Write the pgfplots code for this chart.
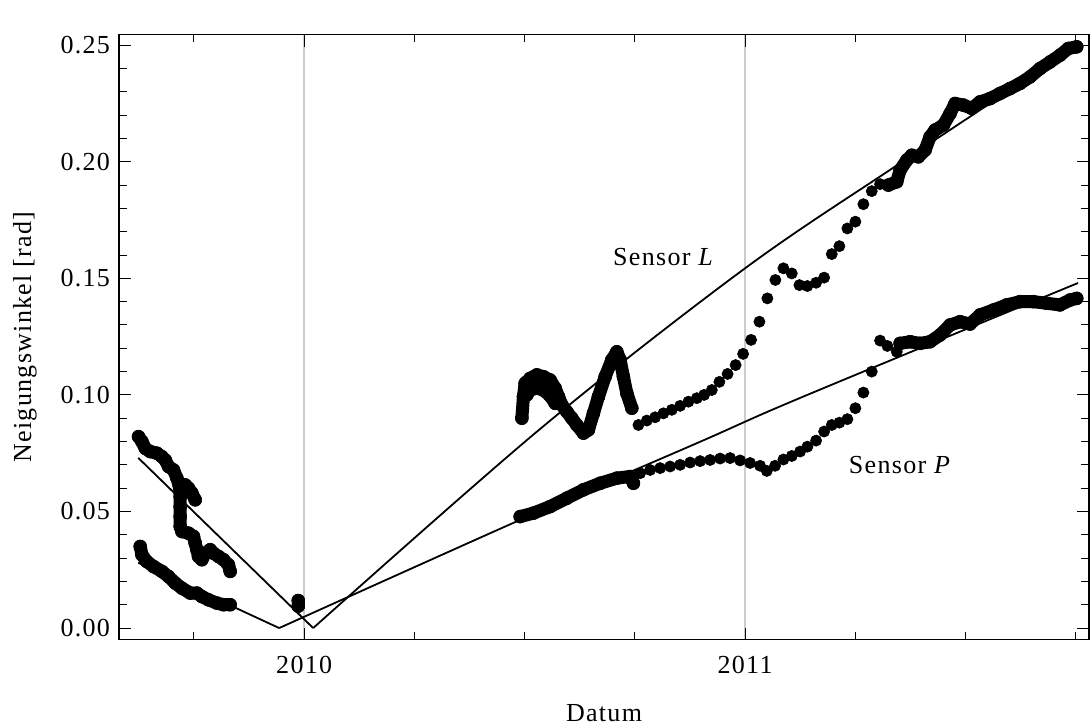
\documentclass[border=0pt]{standalone}
\usepackage{fontspec}
\setmainfont{Liberation Serif}[LetterSpace=5]
\usepackage{pgfplots}
\pgfplotsset{compat=1.18}

\newcommand{\chartfont}{\fontsize{13}{15}\selectfont}

\pgfplotsset{
  dense/.style={black, line width=6.5pt, line cap=round, line join=round,
                mark=*, mark size=3.25pt, mark options={line width=0.3pt}},
  dots/.style={black, only marks, mark=*, mark size=2.8pt,
               mark options={line width=0.3pt}},
  fit/.style={black, line width=0.9pt, no marks},
}

\begin{document}
\begin{tikzpicture}[font=\chartfont]
\begin{axis}[
  scale only axis,
  width=485pt, height=302.5pt,
  xmin=2009.58, xmax=2011.78,
  ymin=-0.005, ymax=0.2545,
  axis line style={black, line width=0.6pt},
  xtick={2010,2011},
  xticklabels={2010,2011},
  minor xtick={2009.75,2010.25,2010.5,2010.75,2011.25,2011.5,2011.75},
  xmajorgrids,
  major x grid style={gray!40, line width=0.7pt},
  ytick={0,0.05,0.1,0.15,0.2,0.25},
  minor y tick num=4,
  tick align=inside,
  tick style={black, line width=0.5pt},
  major tick length=6pt,
  minor tick length=3.8pt,
  /pgf/number format/assume math mode=true,
  yticklabel style={/pgf/number format/fixed, /pgf/number format/fixed zerofill,
                    /pgf/number format/precision=2, xshift=-1pt},
  xticklabel style={yshift=-4.5pt},
  tick label style={font=\chartfont},
  label style={font=\chartfont},
  xlabel={Datum},
  ylabel={Neigungswinkel [rad]},
  xlabel style={at={(axis description cs:0.5,-0.1207)}, anchor=center},
  ylabel style={at={(axis description cs:-0.0969,0.5)}, anchor=center},
  clip=false,
]

% fitted trend, sensor L
\addplot[fit] coordinates {(2009.6236,0.0730) (2010.0204,0.0)};
\addplot[fit, smooth, tension=0.55] coordinates {
  (2010.0204,0.0) (2010.5351,0.0854) (2010.9977,0.1540) (2011.3515,0.1994)
  (2011.7483,0.2491)
};
% fitted trend, sensor P
\addplot[fit] coordinates {(2009.6236,0.0280) (2009.9433,0.0)};
\addplot[fit, smooth, tension=0.55] coordinates {
  (2009.9433,0.0) (2010.4898,0.0464) (2010.8980,0.0799) (2011.1247,0.0987)
  (2011.7551,0.1480)
};

% sensor L, autumn 2009
\addplot[dense] coordinates {
  (2009.6243,0.0821) (2009.6320,0.0800) (2009.6395,0.0771) (2009.6508,0.0757)
  (2009.6660,0.0750) (2009.6773,0.0735) (2009.6848,0.0721) (2009.6923,0.0693)
  (2009.7036,0.0678) (2009.7113,0.0643) (2009.7172,0.0607) (2009.7188,0.0564)
  (2009.7188,0.0521) (2009.7188,0.0478) (2009.7188,0.0435) (2009.7227,0.0414)
  (2009.7376,0.0407) (2009.7490,0.0393) (2009.7528,0.0364) (2009.7567,0.0336)
  (2009.7603,0.0307) (2009.7680,0.0293) (2009.7755,0.0321) (2009.7868,0.0336)
  (2009.7943,0.0321) (2009.8057,0.0307) (2009.8170,0.0293) (2009.8283,0.0271)
  (2009.8322,0.0243)
};
\addplot[dense] coordinates {
  (2009.7172,0.0607) (2009.7302,0.0614) (2009.7376,0.0600) (2009.7453,0.0579)
  (2009.7528,0.0550)
};
% sensor P, autumn 2009
\addplot[dense] coordinates {
  (2009.6281,0.0350) (2009.6320,0.0314) (2009.6433,0.0285) (2009.6583,0.0264)
  (2009.6773,0.0243) (2009.6923,0.0221) (2009.7075,0.0193) (2009.7227,0.0171)
  (2009.7415,0.0150) (2009.7567,0.0150) (2009.7680,0.0135) (2009.7830,0.0121)
  (2009.8020,0.0107) (2009.8170,0.0100) (2009.8322,0.0100)
};
% single readings at the turn of the year
\addplot[dense] coordinates {(2009.9864,0.0118) (2009.9864,0.0094)};

% sensor L, summer 2010
\addplot[dense] coordinates {
  (2010.4937,0.0900) (2010.4973,0.0993) (2010.5011,0.1050) (2010.5125,0.1071)
  (2010.5277,0.1086) (2010.5426,0.1078) (2010.5578,0.1064) (2010.5692,0.1029)
  (2010.5767,0.0993) (2010.5844,0.0957) (2010.5957,0.0928) (2010.6070,0.0900)
  (2010.6184,0.0871) (2010.6333,0.0836) (2010.6447,0.0850) (2010.6560,0.0921)
  (2010.6674,0.0993) (2010.6826,0.1078) (2010.6977,0.1150) (2010.7091,0.1185)
  (2010.7166,0.1150) (2010.7240,0.1078) (2010.7318,0.1007) (2010.7431,0.0943)
};
\addplot[dense] coordinates {
  (2010.5050,0.1000) (2010.5125,0.1021) (2010.5277,0.1029) (2010.5426,0.1021)
  (2010.5578,0.0996) (2010.5692,0.0964)
};
% sensor L, from autumn 2010
\addplot[dots] coordinates {
  (2010.7581,0.0871) (2010.7771,0.0890) (2010.7959,0.0904) (2010.8148,0.0921)
  (2010.8338,0.0936) (2010.8526,0.0953) (2010.8715,0.0971) (2010.8905,0.0986)
  (2010.9070,0.1000) (2010.9245,0.1021) (2010.9417,0.1056) (2010.9603,0.1090)
  (2010.9785,0.1128) (2010.9955,0.1176) (2011.0136,0.1236) (2011.0325,0.1314)
  (2011.0506,0.1414) (2011.0687,0.1493) (2011.0869,0.1543) (2011.1059,0.1521)
  (2011.1232,0.1471) (2011.1413,0.1467) (2011.1610,0.1481) (2011.1792,0.1503)
  (2011.1966,0.1604) (2011.2138,0.1638) (2011.2320,0.1714) (2011.2501,0.1743)
  (2011.2683,0.1818) (2011.2873,0.1874) (2011.3061,0.1904)
};
\addplot[dense] coordinates {
  (2011.3250,0.1900) (2011.3440,0.1914) (2011.3515,0.1964) (2011.3667,0.2007)
  (2011.3780,0.2028) (2011.3930,0.2021) (2011.4082,0.2050) (2011.4195,0.2107)
  (2011.4309,0.2136) (2011.4497,0.2157) (2011.4649,0.2207) (2011.4762,0.2250)
  (2011.4950,0.2243) (2011.5141,0.2229) (2011.5329,0.2257) (2011.5556,0.2271)
  (2011.5782,0.2293) (2011.6009,0.2314) (2011.6236,0.2336) (2011.6463,0.2364)
  (2011.6690,0.2400) (2011.6916,0.2428) (2011.7143,0.2457) (2011.7331,0.2486)
  (2011.7522,0.2493)
};

% sensor P, summer 2010
\addplot[dense] coordinates {
  (2010.4898,0.0478) (2010.5200,0.0493) (2010.5578,0.0521) (2010.5957,0.0557)
  (2010.6333,0.0593) (2010.6712,0.0621) (2010.7091,0.0643) (2010.7392,0.0650)
  (2010.7467,0.0621)
};
% sensor P, from autumn 2010
\addplot[dots] coordinates {
  (2010.7619,0.0664) (2010.7846,0.0678) (2010.8073,0.0686) (2010.8299,0.0693)
  (2010.8526,0.0700) (2010.8753,0.0710) (2010.8980,0.0716) (2010.9206,0.0721)
  (2010.9433,0.0727) (2010.9660,0.0729) (2010.9887,0.0719) (2011.0113,0.0708)
  (2011.0340,0.0696) (2011.0492,0.0674) (2011.0680,0.0696) (2011.0869,0.0723)
  (2011.1059,0.0738) (2011.1247,0.0757) (2011.1413,0.0778) (2011.1610,0.0804)
  (2011.1792,0.0843) (2011.1966,0.0871) (2011.2138,0.0881) (2011.2320,0.0896)
  (2011.2501,0.0943) (2011.2683,0.1010) (2011.2873,0.1100) (2011.3061,0.1233)
  (2011.3227,0.1210) (2011.3440,0.1185)
};
\addplot[dense] coordinates {
  (2011.3515,0.1221) (2011.3742,0.1228) (2011.3968,0.1221) (2011.4195,0.1228)
  (2011.4422,0.1257) (2011.4649,0.1300) (2011.4876,0.1314) (2011.5102,0.1304)
  (2011.5329,0.1343) (2011.5631,0.1364) (2011.5934,0.1386) (2011.6236,0.1400)
  (2011.6538,0.1400) (2011.6841,0.1393) (2011.7143,0.1386) (2011.7370,0.1407)
  (2011.7522,0.1414)
};

\node at (axis cs:2010.8152,0.1591) {Sensor \textit{L}};
\node at (axis cs:2011.3515,0.0700) {Sensor \textit{P}};
\end{axis}
\pgfresetboundingbox
\useasboundingbox ([xshift=-59.5pt,yshift=-42pt]current axis.south west)
  rectangle ([xshift=0.5pt,yshift=17.35pt]current axis.north east);
\end{tikzpicture}
\end{document}
